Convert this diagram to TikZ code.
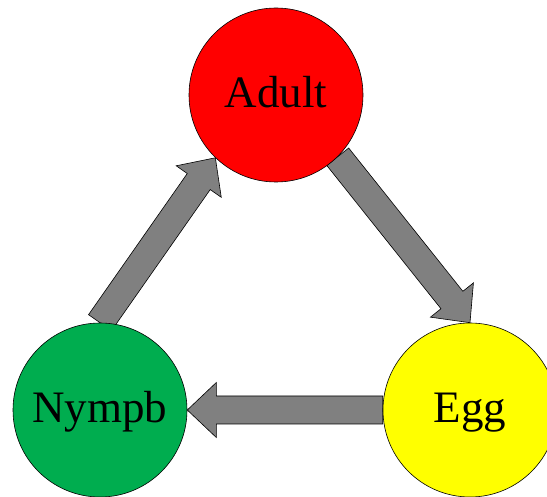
\documentclass[tikz,border=0pt]{standalone}
\usepackage{fontspec}
\setmainfont{Liberation Serif}
\usetikzlibrary{calc,backgrounds}
\definecolor{arrowgray}{HTML}{808080}
\definecolor{adultred}{HTML}{FF0000}
\definecolor{nymphgreen}{HTML}{00AD4F}
\definecolor{eggyellow}{HTML}{FFFF00}
\tikzset{
  stage/.style={circle, draw=black, line width=0.6pt, minimum size=174pt, inner sep=0pt,
    font=\fontsize{45}{45}\selectfont, text height=30pt, text depth=4pt},
  fatbody/.style={fill=arrowgray, draw=black, line width=0.6pt, line join=miter},
}
\newcommand\fatarrow[2]{%
  \coordinate (fa-s) at (#1);
  \coordinate (fa-t) at (#2);
  \coordinate (fa-h) at ($(fa-t)!29pt!(fa-s)$);
  \draw[fatbody] ($(fa-s)!14pt!90:(fa-t)$) -- ($(fa-h)!14pt!90:(fa-t)$)
    -- ($(fa-h)!27.5pt!90:(fa-t)$) -- (fa-t) -- ($(fa-h)!27.5pt!-90:(fa-t)$)
    -- ($(fa-h)!14pt!-90:(fa-t)$) -- ($(fa-s)!14pt!-90:(fa-t)$) -- cycle;
}
\begin{document}
\begin{tikzpicture}[x=1pt,y=-1pt]
  \useasboundingbox (0,0) rectangle (547,497);
  \clip (0,0) rectangle (547,497);
  \node[stage, fill=adultred] (adult) at (276,95) {Adult};
  \node[stage, fill=nymphgreen] (nymph) at (100,410) {Nympb};
  \node[stage, fill=eggyellow] (egg) at (470,410) {Egg};
  \begin{pgfonlayer}{background}
    \fatarrow{nymph.north}{adult.226}
    \fatarrow{adult.-45}{egg.north}
    \fatarrow{egg.west}{nymph.east}
  \end{pgfonlayer}
\end{tikzpicture}
\end{document}
